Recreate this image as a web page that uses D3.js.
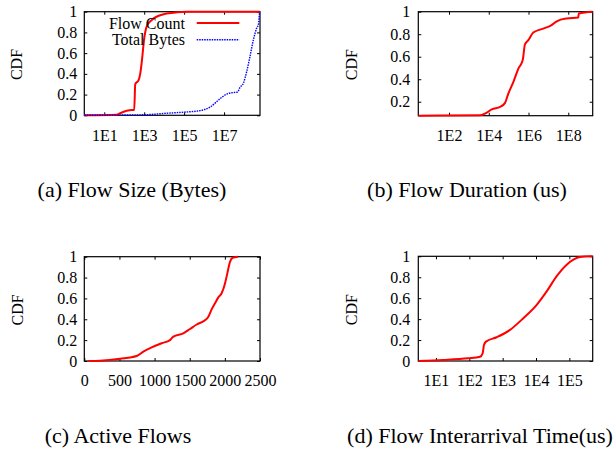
<!DOCTYPE html>
<html>
<head>
<meta charset="utf-8">
<script src="https://cdn.jsdelivr.net/npm/d3@7"></script>
<style>
body { margin: 0; background: #fff; }
text { font-family: "Liberation Serif", "Times New Roman", "DejaVu Serif", serif; fill: #000; }
</style>
</head>
<body>
<svg id="chart" width="615" height="455"></svg>
<script>
// (a) flow size, bytes
var sizeCountX = [1, 43, 63, 240, 316, 355, 525, 631, 760, 1000, 1350, 2400, 9300, 29500, 135000, 6.3e8]
var sizeCountY = [0, 0.005, 0.02, 0.05, 0.05, 0.3, 0.34, 0.4, 0.52, 0.74, 0.86, 0.92, 0.975, 0.99, 1, 1]
var sizeBytesX = [1, 930, 13500, 93000, 631000, 2.0e6, 6.3e6, 1.35e7, 2.95e7, 4.7e7, 6.3e7, 9.3e7, 1.35e8, 2.0e8, 2.95e8, 4.27e8, 5.25e8, 6.0e8]
var sizeBytesY = [0, 0.005, 0.02, 0.03, 0.045, 0.08, 0.16, 0.205, 0.22, 0.225, 0.27, 0.31, 0.42, 0.57, 0.73, 0.84, 0.88, 1]

// (b) flow duration, us
var durX = [2.85, 3630, 7940, 14100, 37200, 66000, 95500, 174000, 309000, 513000, 661000, 977000, 1.74e6, 5.5e6, 1.45e7, 2.63e7, 8.3e7, 3.16e8, 3.4e8, 1.7e9]
var durY = [0.076, 0.08, 0.104, 0.133, 0.154, 0.19, 0.27, 0.376, 0.495, 0.57, 0.71, 0.747, 0.815, 0.85, 0.88, 0.915, 0.94, 0.948, 0.984, 1]

// (c) active flows
var activeX = [57, 223, 508, 745, 840, 958, 1100, 1219, 1267, 1409, 1504, 1599, 1717, 1765, 1812, 1860, 1907, 1954, 2002, 2035, 2073, 2111, 2187]
var activeY = [0, 0.003, 0.022, 0.048, 0.09, 0.13, 0.17, 0.2, 0.233, 0.265, 0.307, 0.35, 0.39, 0.425, 0.495, 0.553, 0.61, 0.65, 0.744, 0.84, 0.95, 0.99, 1]

// (d) flow interarrival time, us
var iatX = [2.95, 16.6, 93, 209, 251, 275, 316, 661, 1660, 4170, 10500, 20900, 41700, 83200, 132000, 209000, 501000]
var iatY = [0, 0.01, 0.026, 0.04, 0.073, 0.153, 0.185, 0.227, 0.297, 0.409, 0.537, 0.665, 0.81, 0.92, 0.968, 0.994, 1]

var yTicks = [0, 0.2, 0.4, 0.6, 0.8, 1]
var yTicksB = [0.2, 0.4, 0.6, 0.8, 1]
var xTicksA = [1e1, 1e3, 1e5, 1e7]
var xLabelsA = ["1E1", "1E3", "1E5", "1E7"]
var xTicksB = [1e2, 1e4, 1e6, 1e8]
var xLabelsB = ["1E2", "1E4", "1E6", "1E8"]
var xTicksC = [0, 500, 1000, 1500, 2000, 2500]
var xTicksD = [1e1, 1e2, 1e3, 1e4, 1e5]
var xLabelsD = ["1E1", "1E2", "1E3", "1E4", "1E5"]
var seriesNames = ["Flow Count", "Total Bytes"]
var captions = ["(a) Flow Size (Bytes)", "(b) Flow Duration (us)", "(c) Active Flows", "(d) Flow Interarrival Time(us)"]

var svg = d3.select("#chart")
var fs = 16

function zip(xs, ys) {
  return xs.map(function(x, i) { return [x, ys[i]] })
}

function panel(p) {
  var w = p.right - p.left, h = p.bottom - p.top
  var g = svg.append("g").attr("transform", "translate(" + p.left + "," + p.top + ")")
  var x = p.log ? d3.scaleLog().domain(p.xdom).range([0, w]) : d3.scaleLinear().domain(p.xdom).range([0, w])
  var y = d3.scaleLinear().domain(p.ydom).range([h, 0])

  var fmtX = function(d, i) { return p.xlabels ? p.xlabels[i] : String(d) }
  var fmtY = function(d) { return String(d) }

  var bx = g.append("g").attr("transform", "translate(0," + h + ")")
    .call(d3.axisBottom(x).tickValues(p.xticks).tickFormat(fmtX).tickSizeInner(-3).tickSizeOuter(0).tickPadding(14))
  var tx = g.append("g")
    .call(d3.axisTop(x).tickValues(p.xticks).tickFormat("").tickSizeInner(-3).tickSizeOuter(0))
  var ly = g.append("g")
    .call(d3.axisLeft(y).tickValues(p.yticks).tickFormat(fmtY).tickSizeInner(-3).tickSizeOuter(0).tickPadding(p.ypad))
  var ry = g.append("g").attr("transform", "translate(" + w + ",0)")
    .call(d3.axisRight(y).tickValues(p.yticks).tickFormat("").tickSizeInner(-3).tickSizeOuter(0))
  ;[bx, tx, ly, ry].forEach(function(a) {
    a.select(".domain").remove()
    a.selectAll("line").attr("stroke", "#000")
    a.selectAll("text").style("font-family", "Liberation Serif").style("font-size", fs + "px").attr("fill", "#000")
  })

  g.append("rect").attr("width", w).attr("height", h)
    .attr("fill", "none").attr("stroke", "#000").attr("stroke-width", 1.2)

  var line = d3.line().x(function(d) { return x(d[0]) }).y(function(d) { return y(d[1]) })
    .curve(d3.curveMonotoneX)
  p.series.forEach(function(s) {
    g.append("path").datum(s.data).attr("d", line)
      .attr("fill", "none").attr("stroke", s.color).attr("stroke-width", s.width)
      .attr("stroke-dasharray", s.dash || null)
  })

  g.append("text").attr("transform", "translate(" + p.ylabX + "," + (h / 2 + 1) + ") rotate(-90)")
    .attr("text-anchor", "middle").attr("dy", "0.35em").style("font-size", fs + "px").text("CDF")

  svg.append("text").attr("x", p.capX).attr("y", p.capY).attr("text-anchor", "middle")
    .style("font-size", "22px").text(p.caption)
  return g
}

var ga = panel({
  left: 84.3, right: 260, top: 11.7, bottom: 115.3, log: true,
  xdom: [1, Math.pow(10, 8.8)], ydom: [0, 1], xticks: xTicksA, xlabels: xLabelsA, yticks: yTicks, ypad: 7,
  ylabX: -68, capX: 132, capY: 197, caption: captions[0],
  series: [
    { data: zip(sizeCountX, sizeCountY), color: "#ff0000", width: 2 },
    { data: zip(sizeBytesX, sizeBytesY), color: "#0000ff", width: 1.4, dash: "1.5,1" }
  ]
})

// key
var key = ga.append("g")
seriesNames.forEach(function(n, i) {
  var yy = 11.3 + i * 16.7
  key.append("text").attr("x", 185 - 84.3).attr("y", yy).attr("dy", "0.35em").attr("text-anchor", "end")
    .style("font-size", fs + "px").text(n)
  key.append("line").attr("x1", 196.7 - 84.3).attr("x2", 239.3 - 84.3).attr("y1", yy).attr("y2", yy)
    .attr("stroke", i == 0 ? "#ff0000" : "#0000ff").attr("stroke-width", i == 0 ? 2 : 1.4)
    .attr("stroke-dasharray", i == 0 ? null : "1.5,1")
})

panel({
  left: 418.3, right: 592.7, top: 11.7, bottom: 115.7, log: true,
  xdom: [Math.pow(10, 0.455), Math.pow(10, 9.23)], ydom: [0.076, 1], xticks: xTicksB, xlabels: xLabelsB, yticks: yTicksB, ypad: 8,
  ylabX: -67, capX: 467, capY: 197, caption: captions[1],
  series: [{ data: zip(durX, durY), color: "#ff0000", width: 2 }]
})

panel({
  left: 84.3, right: 260, top: 256.7, bottom: 361, log: false,
  xdom: [0, 2500], ydom: [0, 1], xticks: xTicksC, yticks: yTicks, ypad: 7,
  ylabX: -67, capX: 118, capY: 443, caption: captions[2],
  series: [{ data: zip(activeX, activeY), color: "#ff0000", width: 2 }]
})

panel({
  left: 418.3, right: 592.7, top: 256.3, bottom: 361, log: true,
  xdom: [Math.pow(10, 0.47), Math.pow(10, 5.7)], ydom: [0, 1], xticks: xTicksD, xlabels: xLabelsD, yticks: yTicks, ypad: 8,
  ylabX: -67, capX: 480, capY: 443, caption: captions[3],
  series: [{ data: zip(iatX, iatY), color: "#ff0000", width: 2 }]
})
</script>
</body>
</html>
